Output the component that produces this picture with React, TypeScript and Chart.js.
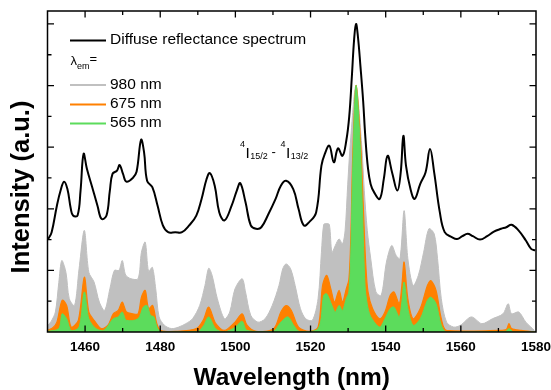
import React, { useEffect, useRef } from "react";
import { Chart, registerables } from "chart.js";

Chart.register(...registerables);

const FONT = "'Liberation Sans', Arial, Helvetica, sans-serif";

const X_MIN = 1450;
const X_MAX = 1580;
const Y_MAX = 10.42;

const xTickValues = [1460, 1480, 1500, 1520, 1540, 1560, 1580];
const xMinorTicks = [1470, 1490, 1510, 1530, 1550, 1570];
const yMajorTicks = [2, 4, 6, 8, 10];
const yMinorTicks = [1, 3, 5, 7, 9];

const COLOR_REFL = "#000000";
const COLOR_980 = "#c0c0c0";
const COLOR_675 = "#ff8000";
const COLOR_565 = "#5cdc5c";

// Diffuse reflectance spectrum (black line)
const reflWl = [
  1450.2, 1451.1, 1452.5, 1453.5, 1454.4, 1455.3, 1456.2, 1456.8, 1458.0, 1458.8,
  1459.6, 1460.5, 1461.9, 1463.3, 1464.4, 1465.7, 1466.6, 1467.3, 1468.5, 1469.2,
  1470.1, 1471.0, 1472.7, 1473.7, 1474.9, 1475.7, 1476.5, 1477.9, 1479.3, 1480.7,
  1482.1, 1484.0, 1485.8, 1487.7, 1489.6, 1491.0, 1492.3, 1493.2, 1494.5, 1495.7,
  1497.1, 1499.0, 1500.4, 1501.3, 1502.7, 1504.1, 1505.5, 1506.9, 1508.8, 1510.7,
  1512.1, 1513.5, 1515.4, 1516.8, 1518.2, 1519.6, 1521.5, 1522.9, 1523.8, 1525.0,
  1526.2, 1527.3, 1528.5, 1529.5, 1530.3, 1531.0, 1531.6, 1532.1, 1532.6, 1533.3,
  1534.0, 1534.6, 1535.3, 1536.0, 1536.9, 1538.4, 1539.5, 1540.5, 1541.7, 1543.1,
  1544.0, 1544.7, 1545.4, 1546.6, 1547.7, 1549.2, 1550.6, 1551.8, 1552.9, 1554.4,
  1555.7, 1557.6, 1559.0, 1560.4, 1561.8, 1563.2, 1565.1, 1567.0, 1568.8, 1570.7,
  1572.1, 1573.5, 1575.4, 1577.3, 1578.7, 1579.8,
];
const reflVal = [
  3.02, 3.24, 4.1, 4.6, 4.88, 4.64, 4.0, 3.78, 3.78, 4.6,
  5.78, 5.29, 4.7, 4.1, 3.67, 3.78, 4.6, 5.13, 5.24, 5.42,
  5.13, 4.88, 5.0, 5.2, 6.24, 5.83, 4.91, 4.7, 4.1, 3.46,
  3.24, 3.24, 3.24, 3.46, 3.78, 4.32, 4.95, 5.16, 4.75, 3.89,
  3.62, 4.1, 4.6, 4.83, 4.21, 3.46, 3.35, 3.4, 3.83, 4.32,
  4.75, 4.91, 4.64, 4.0, 3.46, 3.56, 3.89, 5.4, 5.78, 6.05,
  5.51, 5.96, 5.72, 6.2, 7.0, 8.3, 9.5, 10.0, 9.6, 8.6,
  7.5, 6.3, 5.3, 4.8, 4.54, 4.32, 4.97, 5.72, 5.18, 4.59,
  5.18, 6.37, 5.4, 4.64, 4.32, 4.81, 5.18, 5.94, 5.18, 3.89,
  3.24, 3.08, 3.02, 3.11, 3.19, 3.11, 3.0, 3.11, 3.26, 3.35,
  3.4, 3.48, 3.29, 2.97, 2.7, 2.65,
];

// Emission excitation lambda_em = 980 nm (gray area)
const em980Wl = [
  1450.0, 1451.0, 1452.1, 1453.0, 1453.8, 1454.9, 1455.8, 1457.2, 1458.4, 1459.8,
  1461.0, 1462.4, 1463.8, 1465.2, 1466.6, 1467.8, 1469.0, 1469.9, 1470.8, 1472.2,
  1474.1, 1475.0, 1476.0, 1476.9, 1477.9, 1478.8, 1479.7, 1481.1, 1483.0, 1484.9,
  1486.8, 1488.6, 1490.5, 1491.9, 1492.9, 1493.8, 1495.2, 1497.1, 1498.5, 1499.9,
  1501.8, 1502.7, 1504.1, 1506.0, 1507.9, 1509.8, 1511.6, 1512.6, 1513.5, 1514.7,
  1515.9, 1517.3, 1518.7, 1520.5, 1522.0, 1522.9, 1523.5, 1524.2, 1525.0, 1525.7,
  1526.6, 1527.6, 1528.5, 1529.2, 1529.9, 1530.7, 1532.1, 1533.6, 1534.3, 1535.1,
  1536.0, 1537.4, 1538.8, 1540.2, 1541.6, 1542.8, 1543.8, 1544.9, 1545.9, 1547.3,
  1548.7, 1550.1, 1551.5, 1552.9, 1553.8, 1554.8, 1556.2, 1558.1, 1559.9, 1562.8,
  1565.6, 1568.4, 1571.2, 1572.6, 1573.5, 1575.4, 1577.3, 1579.6,
];
const em980Val = [
  0.2, 0.35, 0.65, 1.6, 2.32, 1.94, 1.08, 0.86, 2.05, 3.3,
  1.94, 1.62, 0.97, 0.7, 1.4, 2.0, 2.0, 2.32, 1.85, 1.73,
  1.73, 2.59, 2.92, 1.97, 2.1, 1.4, 0.49, 0.22, 0.11, 0.16,
  0.27, 0.43, 0.86, 1.51, 2.07, 1.84, 1.08, 0.43, 0.65, 1.4,
  1.73, 1.3, 0.54, 0.32, 0.43, 0.86, 1.51, 2.05, 2.21, 2.05,
  1.51, 0.76, 0.43, 0.38, 1.08, 2.59, 3.49, 3.52, 3.49, 2.59,
  2.81, 3.02, 2.86, 3.3, 4.8, 6.3, 8.0, 6.1, 4.6, 3.3,
  2.4, 1.3, 1.19, 2.27, 2.81, 2.48, 2.38, 3.94, 2.38, 1.51,
  1.84, 2.59, 3.35, 3.19, 2.38, 1.08, 0.32, 0.16, 0.22, 0.49,
  0.27, 0.43, 0.59, 0.92, 0.59, 0.65, 0.32, 0.05,
];

// lambda_em = 675 nm (orange area)
const em675Wl = [
  1450.0, 1451.5, 1452.5, 1453.9, 1455.1, 1456.3, 1458.2, 1459.8, 1461.0, 1462.4,
  1464.3, 1466.1, 1467.5, 1468.8, 1469.9, 1471.0, 1472.7, 1474.1, 1475.0, 1476.0,
  1476.9, 1478.0, 1479.1, 1480.2, 1484.0, 1489.6, 1491.5, 1492.9, 1494.8, 1497.1,
  1499.9, 1501.8, 1503.1, 1505.5, 1510.2, 1512.1, 1513.5, 1514.9, 1516.8, 1519.6,
  1522.0, 1523.2, 1524.3, 1525.4, 1526.4, 1527.6, 1528.5, 1529.5, 1530.2, 1530.7,
  1531.2, 1532.1, 1533.3, 1534.0, 1534.7, 1535.3, 1536.5, 1538.4, 1539.8, 1541.2,
  1542.2, 1543.6, 1544.3, 1544.9, 1545.9, 1547.3, 1549.2, 1551.1, 1552.0, 1553.4,
  1554.8, 1556.2, 1570.0, 1572.1, 1572.8, 1573.5, 1576.0, 1580.0,
];
const em675Val = [
  0.05, 0.15, 0.32, 1.03, 0.86, 0.16, 0.38, 1.78, 0.65, 0.38,
  0.11, 0.22, 0.59, 0.7, 0.97, 0.65, 0.59, 0.59, 1.13, 1.35,
  0.76, 0.86, 0.27, 0.05, 0.02, 0.11, 0.4, 0.81, 0.27, 0.05,
  0.32, 0.59, 0.22, 0.02, 0.11, 0.65, 0.86, 0.7, 0.16, 0.02,
  0.16, 1.51, 1.84, 1.4, 0.97, 1.35, 0.97, 1.4, 1.7, 3.0,
  5.6, 8.0, 6.2, 4.2, 2.2, 1.3, 0.76, 0.43, 0.65, 1.19,
  1.3, 0.92, 1.51, 2.27, 1.08, 0.43, 0.76, 1.51, 1.67, 1.35,
  0.43, 0.05, 0.05, 0.08, 0.27, 0.11, 0.05, 0.0,
];

// lambda_em = 565 nm (green area)
const em565Wl = [
  1450.0, 1453.0, 1453.9, 1455.1, 1456.3, 1458.4, 1459.8, 1461.0, 1462.9, 1465.0,
  1467.5, 1468.8, 1469.9, 1471.0, 1474.1, 1475.5, 1476.5, 1477.4, 1478.3, 1479.3,
  1480.5, 1490.0, 1491.5, 1492.9, 1494.8, 1497.0, 1499.9, 1501.8, 1503.1, 1510.0,
  1512.1, 1514.0, 1515.5, 1517.0, 1522.0, 1523.5, 1524.3, 1525.7, 1526.6, 1527.6,
  1528.5, 1529.5, 1530.2, 1530.7, 1531.2, 1532.1, 1533.2, 1533.8, 1534.5, 1535.1,
  1536.0, 1538.4, 1539.8, 1541.2, 1542.2, 1543.6, 1544.3, 1544.9, 1545.9, 1547.3,
  1549.2, 1551.1, 1552.0, 1553.4, 1554.8, 1556.2, 1572.0, 1572.8, 1574.0, 1580.0,
];
const em565Val = [
  0.02, 0.11, 0.59, 0.43, 0.05, 0.16, 1.3, 0.43, 0.11, 0.05,
  0.43, 0.49, 0.65, 0.38, 0.43, 0.81, 0.86, 0.54, 0.49, 0.11,
  0.0, 0.02, 0.2, 0.49, 0.1, 0.0, 0.15, 0.35, 0.05, 0.02,
  0.32, 0.49, 0.22, 0.02, 0.1, 1.19, 1.24, 0.86, 0.65, 0.86,
  0.7, 1.08, 1.3, 2.5, 5.2, 8.0, 6.1, 4.0, 1.5, 0.9,
  0.5, 0.16, 0.43, 0.76, 0.81, 0.49, 0.97, 1.62, 0.76, 0.22,
  0.43, 1.03, 1.13, 0.92, 0.22, 0.0, 0.02, 0.11, 0.0, 0.0,
];

const legendItems = [
  { label: "980 nm", color: COLOR_980 },
  { label: "675 nm", color: COLOR_675 },
  { label: "565 nm", color: COLOR_565 },
];

const toXY = (xs: number[], ys: number[]) => xs.map((x, i) => ({ x, y: ys[i] }));

const decorPlugin = {
  id: "decor",
  afterDraw(chart: any) {
    const { ctx, chartArea: a, scales } = chart;
    const xs = scales.x;
    const ys = scales.y;
    ctx.save();
    ctx.strokeStyle = "#000";
    ctx.fillStyle = "#000";

    // frame
    ctx.lineWidth = 1.5;
    ctx.strokeRect(a.left, a.top, a.right - a.left, a.bottom - a.top);

    // inward ticks
    ctx.lineWidth = 1.3;
    const MAJ = 6.5;
    const MIN = 4;
    const xTick = (v: number, len: number) => {
      const px = xs.getPixelForValue(v);
      ctx.beginPath();
      ctx.moveTo(px, a.bottom);
      ctx.lineTo(px, a.bottom - len);
      ctx.moveTo(px, a.top);
      ctx.lineTo(px, a.top + len);
      ctx.stroke();
    };
    const yTick = (v: number, len: number) => {
      const py = ys.getPixelForValue(v);
      ctx.beginPath();
      ctx.moveTo(a.left, py);
      ctx.lineTo(a.left + len, py);
      ctx.moveTo(a.right, py);
      ctx.lineTo(a.right - len, py);
      ctx.stroke();
    };
    xTickValues.filter((v) => v < X_MAX).forEach((v) => xTick(v, MAJ));
    xMinorTicks.forEach((v) => xTick(v, MIN));
    yMajorTicks.forEach((v) => yTick(v, MAJ));
    yMinorTicks.forEach((v) => yTick(v, MIN));

    // axis titles
    ctx.font = `bold 24.5px ${FONT}`;
    ctx.textAlign = "center";
    ctx.textBaseline = "alphabetic";
    ctx.fillText("Wavelength (nm)", (a.left + a.right) / 2, 385);

    ctx.save();
    ctx.translate(28.5, 187);
    ctx.rotate(-Math.PI / 2);
    ctx.font = `bold 25.5px ${FONT}`;
    ctx.fillText("Intensity (a.u.)", 0, 0);
    ctx.restore();

    // legend
    const lineX0 = 70;
    const lineX1 = 106;
    const textX = 110;
    ctx.textAlign = "left";
    ctx.textBaseline = "middle";
    ctx.font = `15.5px ${FONT}`;
    ctx.lineWidth = 2;
    ctx.strokeStyle = COLOR_REFL;
    ctx.beginPath();
    ctx.moveTo(lineX0, 40.5);
    ctx.lineTo(lineX1, 40.5);
    ctx.stroke();
    ctx.fillText("Diffuse reflectance spectrum", textX, 40);

    // lambda_em =
    ctx.textBaseline = "alphabetic";
    ctx.font = `13px ${FONT}`;
    ctx.fillText("\u03bb", 70.5, 65);
    let lx = 70.5 + ctx.measureText("\u03bb").width;
    ctx.font = `9px ${FONT}`;
    ctx.fillText("em", lx, 69);
    lx += ctx.measureText("em").width;
    ctx.font = `13px ${FONT}`;
    ctx.fillText("=", lx, 63);

    const rows = [84.5, 104, 123];
    ctx.font = `15.5px ${FONT}`;
    ctx.textBaseline = "middle";
    legendItems.forEach((it, i) => {
      ctx.strokeStyle = it.color;
      ctx.beginPath();
      ctx.moveTo(lineX0, rows[i] + 0.5);
      ctx.lineTo(lineX1, rows[i] + 0.5);
      ctx.stroke();
      ctx.fillStyle = "#000";
      ctx.fillText(it.label, textX, rows[i]);
    });

    // transition annotation 4I15/2 - 4I13/2
    ctx.textBaseline = "alphabetic";
    let ax = 240;
    const part = (txt: string, size: number, y: number, gap = 0) => {
      ctx.font = `${size}px ${FONT}`;
      ctx.fillText(txt, ax, y);
      ax += ctx.measureText(txt).width + gap;
    };
    part("4", 9, 146.5, 0.5);
    part("I", 15.5, 158, 0.5);
    part("15/2", 9, 159);
    part(" - ", 13, 156, 1);
    part("4", 9, 146.5, 0.5);
    part("I", 15.5, 158, 0.5);
    part("13/2", 9, 159);

    ctx.restore();
  },
};

export default function App() {
  const canvasRef = useRef<HTMLCanvasElement | null>(null);

  useEffect(() => {
    document.body.style.margin = "0";
    const canvas = canvasRef.current;
    if (!canvas) return;
    const chart = new Chart(canvas, {
      type: "line",
      data: {
        datasets: [
          {
            label: "Diffuse reflectance spectrum",
            data: toXY(reflWl, reflVal),
            borderColor: COLOR_REFL,
            borderWidth: 2,
            fill: false,
            order: 0,
            tension: 0.4,
          },
          {
            label: "565 nm",
            data: toXY(em565Wl, em565Val),
            borderColor: COLOR_565,
            backgroundColor: COLOR_565,
            borderWidth: 1,
            fill: "origin",
            order: 1,
            tension: 0.3,
          },
          {
            label: "675 nm",
            data: toXY(em675Wl, em675Val),
            borderColor: COLOR_675,
            backgroundColor: COLOR_675,
            borderWidth: 1.2,
            fill: "origin",
            order: 2,
            tension: 0.3,
          },
          {
            label: "980 nm",
            data: toXY(em980Wl, em980Val),
            borderColor: COLOR_980,
            backgroundColor: COLOR_980,
            borderWidth: 1,
            fill: "origin",
            order: 3,
            tension: 0.3,
          },
        ] as any,
      },
      options: {
        animation: false,
        responsive: false,
        devicePixelRatio: 1,
        layout: { padding: { top: 11, right: 15, left: 0, bottom: 0 } },
        elements: { point: { radius: 0 } },
        plugins: {
          legend: { display: false },
          tooltip: { enabled: false },
        },
        scales: {
          x: {
            type: "linear",
            min: X_MIN,
            max: X_MAX,
            grid: { display: false, drawTicks: false },
            border: { display: false },
            ticks: {
              color: "#000",
              padding: 7,
              maxRotation: 0,
              font: { family: FONT, size: 13.5, weight: "bold" },
              callback: (v: any) => String(v),
            },
            afterBuildTicks: (s: any) => {
              s.ticks = xTickValues.map((v) => ({ value: v }));
            },
            afterFit: (s: any) => {
              s.height = 58;
              s.paddingLeft = 0;
              s.paddingRight = 0;
            },
          },
          y: {
            type: "linear",
            min: 0,
            max: Y_MAX,
            grid: { display: false, drawTicks: false },
            border: { display: false },
            ticks: { display: false },
            afterFit: (s: any) => {
              s.width = 47.5;
            },
          },
        },
      } as any,
      plugins: [decorPlugin],
    });
    return () => chart.destroy();
  }, []);

  return (
    <div style={{ width: 551, height: 390 }}>
      <canvas ref={canvasRef} width={551} height={390} style={{ display: "block" }} />
    </div>
  );
}
